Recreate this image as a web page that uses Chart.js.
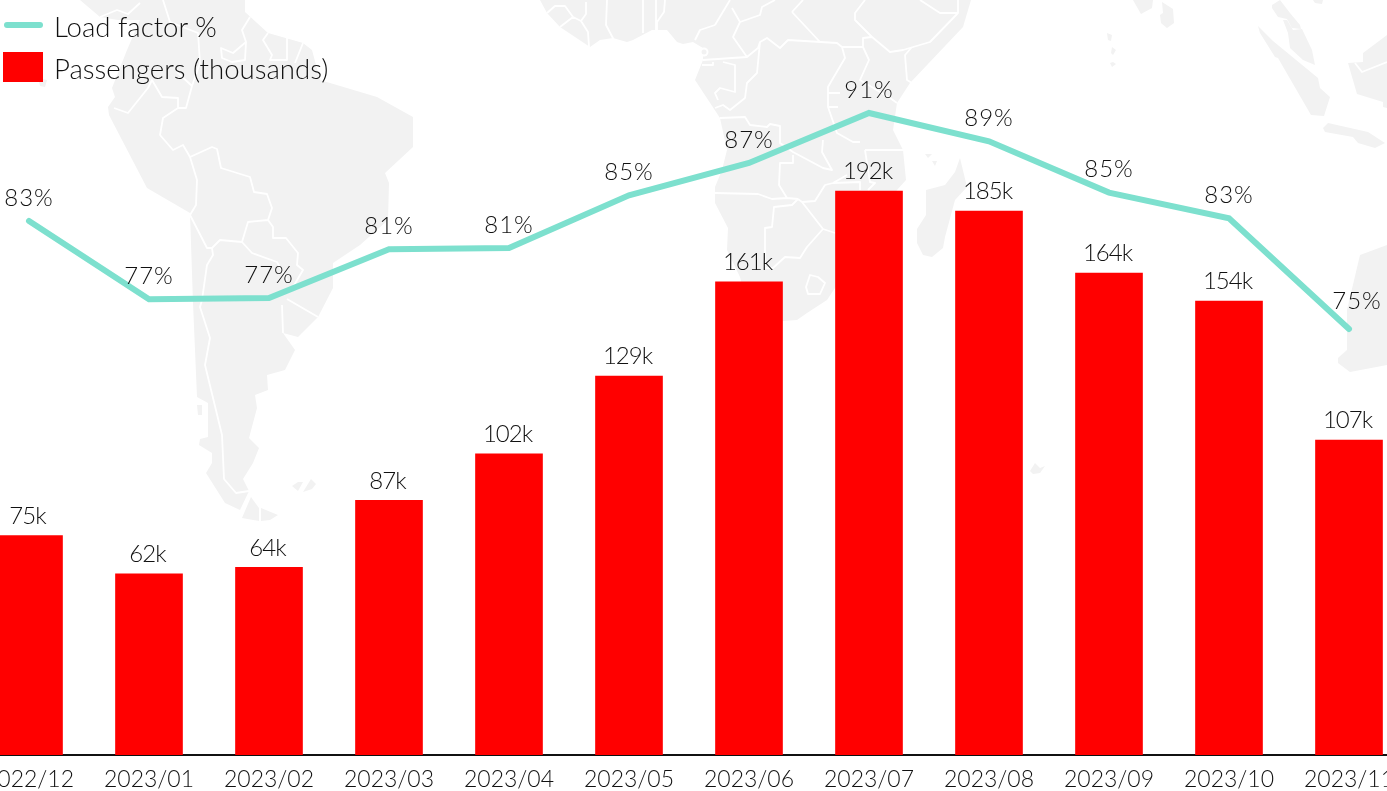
<!DOCTYPE html>
<html>
<head>
<meta charset="utf-8">
<title>Load factor and passengers</title>
<script src="https://cdn.jsdelivr.net/npm/chart.js@4"></script>
<style>
  html, body { margin: 0; padding: 0; background: #fff; overflow: hidden; width: 1387px; height: 791px; }
  #wrap { position: relative; width: 1387px; height: 791px; overflow: hidden; }
  #map { position: absolute; left: 0; top: 0; }
  #map .land { fill: #f2f2f2; stroke: none; }
  #map .border { fill: none; stroke: #fff; stroke-width: 1.8; stroke-linejoin: round; }
  #myChart { position: absolute; left: -31px; top: 0; }
  .legend-row { position: absolute; left: 54px; font: 300 27.6px Lato, sans-serif; color: #111; line-height: 28px; white-space: nowrap; }
  .swatch { position: absolute; }
</style>
</head>
<body>
<div id="wrap">
  <svg id="map" width="1387" height="791" viewBox="0 0 1387 791">
    <!-- South America -->
    <path class="land" d="M80 0L100 17L118 20L140 20L127 50L112 88L115 97L108 107L109 115L147 188L190 213L193 303L197 397L208 403L208 437L200 439L199 445L212 453L212 463L206 473L225 503L240 510L249 491L243 479L253 463L259 448L249 438L257 408L255 395L268 390L267 375L285 370L295 350L283 333L298 337L318 317L333 288L333 263L360 245L388 220L389 183L385 173L413 147L413 117L377 97L320 80L312 50L303 43L268 33L245 12L245 0Z"/>
    <path class="land" d="M251 497L259 508L259 521L242 518ZM261 508L278 515L270 520L261 521ZM298 482L303 482L298 491L292 486ZM311 479L316 484L312 489L303 492ZM197 405L202 405L202 415L198 415ZM38 78L47 80L45 87L40 86Z"/>
    <path class="border" d="M114 108L128 113L148 88L152 80L162 97L178 98L178 108L186 108L192 86L177 72M178 108L163 118L160 135L173 150L183 145L190 157L197 180L196 205L190 215L207 248L212 248L220 240L242 242L248 222L268 220L272 208L267 194L254 192L250 177L221 168L217 149L212 147L190 157M268 220L273 227L273 238L286 238L298 253L297 265L303 270L293 287M242 242L252 253L277 262L287 280M212 248L213 255L207 265L202 300L200 307L210 338L205 365L222 435L224 479L236 493L249 491M287 299L318 317M282 305L283 333M250 17L242 30L246 42L233 53L221 48L222 58L232 62L245 60L246 42M268 33L263 40L272 55L270 60L287 60L287 37M303 43L295 63M163 0L170 22L198 33L200 63L192 86M100 17L117 10L128 14L140 3"/>
    <!-- Africa -->
    <path class="land" d="M540 0L547 13L560 27L590 47L600 40L613 38L627 42L633 40L652 30L667 30L677 42L683 44L693 42L703 48L703 60L695 80L720 118L727 150L722 170L715 187L715 203L728 228L727 250L740 277L750 317L770 322L797 320L807 313L827 300L860 250L897 190L906 180L903 150L893 130L897 103L910 83L963 27L971 0Z"/>
    <circle cx="704" cy="52" r="4.5" fill="#fff"/>
    <circle cx="704" cy="52" r="2.5" fill="#f2f2f2"/>
    <path class="border" d="M547 13L555 6L565 6L573 17L581 21L586 14L586 2M560 27L573 17M581 21L588 32L589 47M607 0L606 25L615 42M643 0L643 33M656 0L656 30M665 0L664 12L657 22L657 30M715 25L730 0M695 40L700 30L715 25M740 22L733 37L747 57L703 60M732 8L740 22L760 15L762 7L775 0M747 57L758 48L760 42L767 38L780 48L788 40L837 43L842 47L863 47L863 38L872 37L855 20L855 13L865 0M792 12L820 42M792 12L803 0M872 37L890 52L903 50L930 42L958 13L958 0M920 0L940 13L958 13M912 47L905 55L907 80L912 83M863 47L869 60L860 80L890 98L897 103M842 47L845 58L832 80L828 87L828 107L837 133L853 142L860 142M828 93L840 93M829 107L838 107M760 42L757 73L747 83L745 98L730 110L723 105L715 108M723 62L735 65L735 92L720 88L715 93L718 100M713 62L713 65L702 65M720 118L745 117L750 125L767 127L770 124L780 126L780 143L793 152L823 168L832 170L822 152L823 140M793 155L793 163L780 163L779 185L787 198L798 199M715 193L758 194L772 199L787 198M798 199L802 202L815 201L825 185L833 183L847 175M802 202L823 229L835 233M823 229L807 247L800 258L785 257L773 268L765 268L765 228L772 227L774 207L792 205L798 199M810 275L818 277L825 283L820 294L808 294L806 287ZM865 150L903 150M865 150L870 182L875 183L868 190M833 183L860 182L860 190"/>
    <!-- Madagascar and small islands -->
    <path class="land" d="M960 158L967 187L955 200L945 237L943 248L932 257L923 255L917 243L917 229L926 215L926 190L945 185L955 172ZM925 154L932 154L928 158ZM932 161L937 161L935 166ZM1030 471L1035 463L1040 468L1045 466L1040 473L1033 474ZM1107 33L1112 35L1111 41L1108 40ZM1112 47L1116 50L1113 55L1111 53ZM1110 63L1113 62L1116 64L1112 67Z"/>
    <!-- India and Sri Lanka -->
    <path class="land" d="M1133 0L1153 0L1152 8L1141 14ZM1162 2L1173 9L1174 23L1167 28L1161 23L1160 15L1163 13Z"/>
    <!-- Southeast Asia -->
    <path class="land" d="M1258 26L1273 41L1318 78L1320 88L1330 97L1324 116L1311 115L1278 58L1275 57L1260 33ZM1272 5L1280 0L1290 13L1300 25L1301 29L1292 28L1287 19L1278 17L1272 8ZM1283 20L1287 20L1293 30L1302 29L1312 50L1315 65L1303 60L1290 48L1288 33ZM1313 0L1323 0L1322 4L1315 3ZM1323 128L1328 123L1368 132L1385 143L1375 148L1358 143L1353 137L1325 132ZM1348 63L1363 62L1363 53L1387 35L1387 108L1383 107L1383 102L1357 94Z"/>
    <path class="border" d="M1355 63L1362 72L1387 62"/>
    <!-- Australia -->
    <path class="land" d="M1387 245L1360 255L1347 310L1347 350L1338 358L1338 363L1350 372L1387 365Z"/>
  </svg>
  <canvas id="myChart" width="1440" height="791"></canvas>
</div>

<script>
const months = ['2022/12', '2023/01', '2023/02', '2023/03', '2023/04', '2023/05',
  '2023/06', '2023/07', '2023/08', '2023/09', '2023/10', '2023/11'];
const passengers = [74.6, 61.6, 63.8, 86.6, 102.4, 128.9, 160.9, 191.8, 185, 163.9, 154.4, 107.1];
const loadFactor = [83, 77.2, 77.3, 80.9, 81, 84.9, 87.3, 91, 88.9, 85.1, 83.2, 75];

const textColor = '#111';
const fontFamily = 'Lato, sans-serif';

// Draws the value above each bar and each line point
const valueLabels = {
  id: 'valueLabels',
  afterDatasetsDraw(chart) {
    const ctx = chart.ctx;
    ctx.save();
    ctx.font = '300 24px ' + fontFamily;
    ctx.fillStyle = textColor;
    ctx.textAlign = 'center';
    ctx.textBaseline = 'middle';
    chart.data.datasets.forEach(function(ds, i) {
      chart.getDatasetMeta(i).data.forEach(function(el, j) {
        const v = Math.round(ds.data[j]);
        if (ds.type === 'line') {
          ctx.letterSpacing = '1px';
          // the last label is pushed in from the edge of the chart
          if (j === ds.data.length - 1) {
            ctx.fillText(v + '%', el.x + 8, el.y - 28);
          } else {
            ctx.fillText(v + '%', el.x, el.y - 23);
          }
        } else {
          ctx.letterSpacing = '-1px';
          ctx.fillText(v + 'k', el.x - 1.5, el.y - 19.5);
        }
      });
    });
    ctx.restore();
  }
};

const chart = new Chart(document.getElementById('myChart').getContext('2d'), {
  type: 'bar',
  data: {
    labels: months,
    datasets: [
      {
        type: 'line',
        label: 'Load factor %',
        data: loadFactor,
        yAxisID: 'y1',
        borderColor: '#7de0ce',
        borderWidth: 6,
        borderCapStyle: 'round',
        borderJoinStyle: 'miter',
        pointRadius: 0,
        tension: 0,
        fill: false,
        order: 1
      },
      {
        type: 'bar',
        label: 'Passengers (thousands)',
        data: passengers,
        yAxisID: 'y',
        backgroundColor: '#ff0000',
        barThickness: 67,
        order: 2
      }
    ]
  },
  options: {
    responsive: false,
    animation: false,
    layout: { padding: 0 },
    plugins: { legend: { display: false }, tooltip: { enabled: false } },
    scales: {
      x: {
        grid: { display: false, drawTicks: false },
        border: { display: true, color: '#111', width: 2 },
        afterFit(scale) { scale.height = 36; },
        ticks: {
          color: textColor,
          padding: 11,
          autoSkip: false,
          maxRotation: 0,
          font: { family: fontFamily, size: 23, weight: '300' }
        }
      },
      y: { display: false, min: 0, max: 256.8 },
      y1: { display: false, min: 43.44, max: 99.37 }
    }
  },
  plugins: [valueLabels]
});

// Legend sits over the plot, outside the shifted canvas
const wrap = document.getElementById('wrap');
const legendY = [27, 69];
chart.data.datasets.forEach(function(ds, i) {
  const row = document.createElement('div');
  row.className = 'legend-row';
  row.style.top = (legendY[i] - 14) + 'px';
  row.textContent = ds.label;
  wrap.appendChild(row);
  const sw = document.createElement('div');
  sw.className = 'swatch';
  if (ds.type === 'line') {
    sw.style.cssText += 'left:4px;top:22px;width:39px;height:6px;border-radius:3px;background:' + ds.borderColor;
  } else {
    sw.style.cssText += 'left:3px;top:52px;width:40px;height:30px;background:' + ds.backgroundColor;
  }
  wrap.appendChild(sw);
});
</script>
</body>
</html>
